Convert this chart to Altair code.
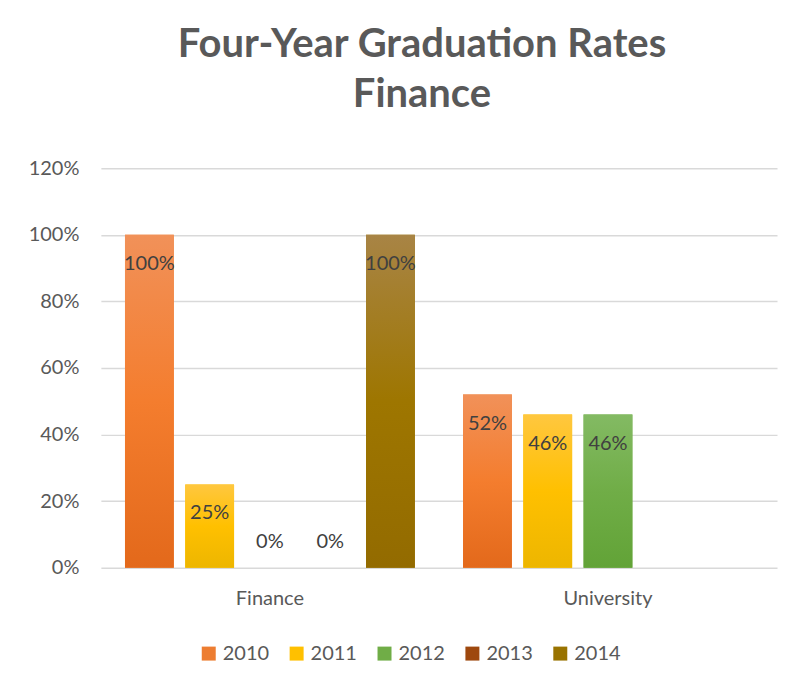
import altair as alt
import pandas as pd

categories = ["Finance", "University"]
years = ["2010", "2011", "2012", "2013", "2014"]
finance = [1.00, 0.25, 0.0, 0.0, 1.00]
university = [0.52, 0.46, 0.46, None, None]

base_colors = ["#ED7D31", "#FFC000", "#70AD47", "#9E480E", "#997300"]
top_colors = ["#F19159", "#FFC73F", "#83BA63", "#AB6140", "#A88445"]
mid_colors = ["#F47D2E", "#FFC000", "#70AD47", "#9E480E", "#9E7600"]
bottom_colors = ["#E3691B", "#EDB600", "#62A337", "#8F3D05", "#936B00"]

rows = []
for cat, vals in zip(categories, [finance, university]):
    for yr, v in zip(years, vals):
        if v is not None:
            rows.append({"category": cat, "year": yr, "value": v})
df = pd.DataFrame(rows)

FONT = "Lato"
GREY = "#595959"

x_enc = alt.X(
    "category:N",
    scale=alt.Scale(domain=categories, paddingInner=0, paddingOuter=0),
    axis=alt.Axis(title=None, labelAngle=0, ticks=False, domain=False,
                  labelFontSize=20, labelColor=GREY, labelFont=FONT,
                  labelPadding=21),
)
xo_enc = alt.XOffset("year:N",
                     scale=alt.Scale(domain=years, paddingInner=0.19, paddingOuter=0.4))
y_enc = alt.Y(
    "value:Q",
    scale=alt.Scale(domain=[0, 1.2], nice=False),
    axis=alt.Axis(title=None, format=".0%", values=[0, 0.2, 0.4, 0.6, 0.8, 1.0, 1.2],
                  ticks=False, domain=False, gridColor="#D9D9D9", gridWidth=1.5,
                  labelFontSize=20, labelColor=GREY, labelFont=FONT, labelPadding=22),
)

base = alt.Chart(df).mark_bar().encode(
    x=x_enc, xOffset=xo_enc, y=y_enc,
    color=alt.Color("year:N", scale=alt.Scale(domain=years, range=base_colors),
                    legend=alt.Legend(title=None, orient="none", direction="horizontal",
                                      legendX=98, legendY=476,
                                      symbolType="square", symbolSize=196,
                                      symbolStrokeWidth=0, labelFontSize=20,
                                      labelColor=GREY, labelFont=FONT,
                                      columnPadding=17, labelOffset=4)),
)

layers = [base]
for i, yr in enumerate(years):
    grad = alt.Gradient(
        gradient="linear", x1=0, x2=0, y1=0, y2=1,
        stops=[alt.GradientStop(offset=0, color=top_colors[i]),
               alt.GradientStop(offset=0.5, color=mid_colors[i]),
               alt.GradientStop(offset=1, color=bottom_colors[i])],
    )
    layers.append(
        alt.Chart(df).transform_filter(alt.datum.year == yr)
        .mark_bar(color=grad).encode(x=x_enc, xOffset=xo_enc, y=y_enc)
    )

txt_pos = alt.Chart(df).transform_filter(alt.datum.value > 0).mark_text(
    font=FONT, fontSize=20, color="#404040", baseline="middle", dy=29
).encode(x=x_enc, xOffset=xo_enc, y=y_enc, text=alt.Text("value:Q", format=".0%"))
txt_zero = alt.Chart(df).transform_filter(alt.datum.value == 0).mark_text(
    font=FONT, fontSize=20, color="#404040", baseline="middle", dy=-26
).encode(x=x_enc, xOffset=xo_enc, y=y_enc, text=alt.Text("value:Q", format=".0%"))
layers += [txt_pos, txt_zero]

chart = alt.layer(*layers).properties(
    width=677, height=400,
    title=alt.TitleParams(text=["Four-Year Graduation Rates", "Finance"],
                          font=FONT, fontSize=40, fontWeight="bold", color=GREY,
                          lineHeight=50, anchor="middle", dx=-17, offset=43),
    padding={"left": 20, "top": 17, "right": 8, "bottom": 5},
).configure(font=FONT, view=alt.ViewConfig(stroke=None))

chart.save("out.html", embed_options={"renderer": "svg", "actions": False})
